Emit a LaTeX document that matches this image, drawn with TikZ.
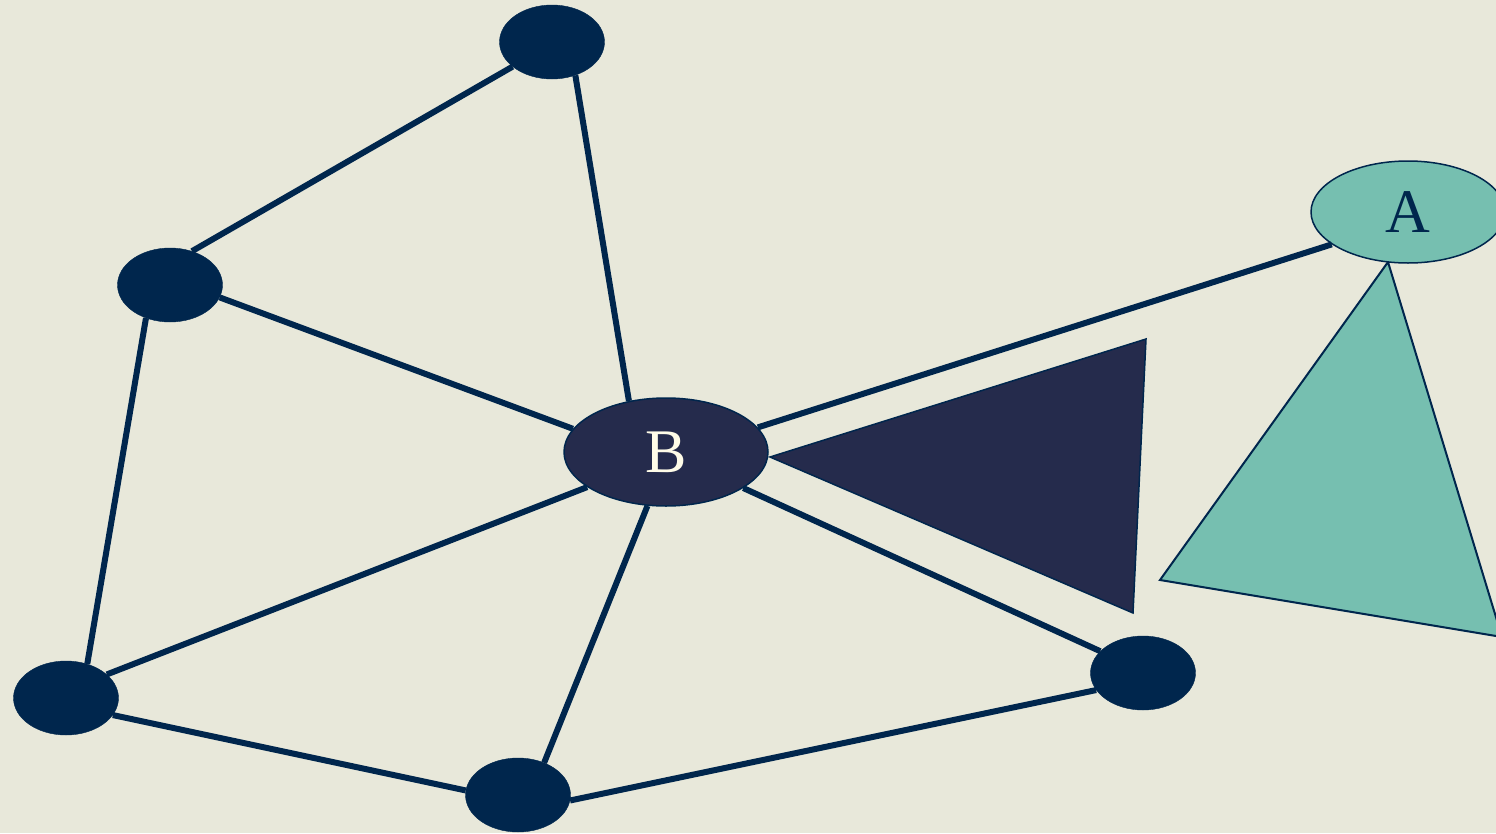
\documentclass[tikz,border=0pt]{standalone}
\usepackage{fontspec}
\setmainfont{Liberation Serif}
\usetikzlibrary{shapes.geometric}
\definecolor{bgc}{HTML}{E8E8DA}
\definecolor{navy}{HTML}{00264D}
\definecolor{slate}{HTML}{252B4C}
\definecolor{teal}{HTML}{76BFB0}
\definecolor{cream}{HTML}{FFFCE8}
\tikzset{
  dot/.style={ellipse, fill=navy, draw=navy, inner sep=0pt, minimum width=105pt, minimum height=74pt},
  link/.style={draw=navy, line width=6pt},
  big/.style={ellipse, inner sep=0pt, font=\fontsize{62}{62}\selectfont}
}
\begin{document}
\begin{tikzpicture}[x=1pt,y=-1pt]
\fill[bgc] (0,0) rectangle (1496,833);
\useasboundingbox (0,0) rectangle (1496,833);
\begin{scope}
\clip (0,0) rectangle (1496,833);
% triangles
\filldraw[fill=slate, draw=navy, line width=1.5pt] (1146,339) -- (1133,613) -- (770,457) -- cycle;
\filldraw[fill=teal, draw=navy, line width=2pt] (1388,262) -- (1160,580) -- (1502,637) -- cycle;
% nodes
\node[dot] (top) at (552,42) {};
\node[dot] (lm) at (170,285) {};
\node[dot] (bl) at (66,698) {};
\node[dot] (bot) at (518,795) {};
\node[dot] (rt) at (1143,673) {};
\node[big, fill=slate, draw=navy, line width=1.5pt, text=cream, minimum width=204pt, minimum height=108pt] (B) at (666,452) {\raisebox{-3pt}{B}};
\node[big, fill=teal, draw=navy, line width=1.5pt, text=navy, minimum width=194pt, minimum height=102pt] (A) at (1408,212) {\raisebox{-3pt}{A}};
% links
\draw[link] (top.212) -- (lm.57);
\draw[link] (top.305) -- (B.126);
\draw[link] (lm.346) -- (B.166);
\draw[link] (lm.234) -- (bl.58);
\draw[link] (bl.30) -- (B.204);
\draw[link] (bl.340) -- (bot.175);
\draw[link] (bot.51) -- (B.251);
\draw[link] (bot.354) -- (rt.200);
\draw[link] (B.335) -- (rt.153);
\draw[link] (B.15) -- (A.203);
\end{scope}
\end{tikzpicture}
\end{document}
